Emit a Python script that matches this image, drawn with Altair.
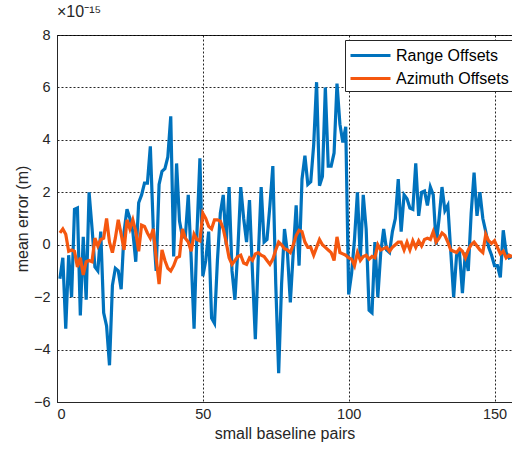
import altair as alt
import pandas as pd

series_names = ["Range Offsets", "Azimuth Offsets"]
series_colors = ["#0072BD", "#F5570F"]

range_vals = [
    -1.3, -0.5, -3.2, -0.4, -2.0, 1.35, 1.4, -2.7, 0.3, -2.1,
    2.0, 0.65, -0.85, -1.0, 0.5, -2.6, -3.1, -4.6, -1.55, -0.9,
    -1.0, -1.7, 0.5, 1.35, 1.0, 0.5, -0.65, 1.6, 1.9, 2.35,
    2.35, 3.75, 0.65, -1.0, 2.3, 2.8, 2.9, 3.35, 4.9, -0.45,
    3.1, 0.9, 0.3, 0.3, 1.9, -0.5, -3.2, 0.5, 3.3, -1.2,
    -0.6, 0.5, -2.8, -3.0, -0.6, 1.2, 1.9, 0.0, 2.2, -1.0,
    -2.1, -0.2, 2.2, 1.0, 0.1, 1.7, -1.0, -3.6, -0.5, 2.2,
    0.1, 0.2, 1.5, 3.0, -1.5, -4.9, -1.5, 0.6, -0.3, -2.2,
    -0.3, 1.5, -0.8, 2.5, 3.4, 2.3, 2.4, 3.8, 6.2, 2.25,
    2.6, 6.0, 3.0, 3.0, 3.5, 6.15, 4.6, 3.9, 4.5, -1.9,
    -1.1, 0.2, 2.0, -0.55, 1.9, 0.6, -2.5, -2.6, 0.1, -2.0,
    -0.3, 0.6, -0.2, -0.3, 0.5, 1.0, 2.5, 0.5, 1.9, 1.75,
    1.4, 1.35, 3.1, 1.1, 2.0, 2.05, 1.5, 2.2, 1.9, 0.0,
    1.0, 2.2, 1.3, 1.5, -0.25, -2.0, -0.4, -0.3, -1.85, -0.3,
    -1.0, 1.2, 2.75, 1.1, 2.0, 1.0, 0.5, -0.1, -0.4, -0.8,
    -0.8, -1.25, 0.55, -0.3, -0.5, -0.45,
]

azimuth_vals = [
    0.45, 0.6, 0.4, -0.25, -0.2, -0.25, -0.85, -0.5, -1.15, -0.65,
    -0.6, -0.65, 0.25, -0.05, 0.2, 0.25, 1.0, 0.1, -0.3, 0.25,
    0.95, 0.4, -0.2, 0.95, 0.6, 0.95, 0.5, -0.25, 0.75, 0.7,
    0.45, 0.25, 0.6, -0.5, -1.5, -0.2, -0.6, -0.9, -1.0, -0.8,
    -0.5, -0.45, 0.6, 0.25, 0.1, -0.25, 0.4, 0.2, 0.15, 1.2,
    1.0, 0.7, 0.6, 0.95, 0.95, 0.9, 0.6, 0.1, -0.5, -0.75,
    -0.6, -0.45, -0.4, -0.7, -0.75, -0.5, -0.6, -0.35, -0.3, -0.4,
    -0.45, -0.6, -0.75, -0.55, -0.2, 0.1, 0.0, -0.15, -0.2, -0.3,
    0.0, 0.35, 0.55, 0.5, 0.1, -0.1, -0.1, -0.4, -0.1, 0.2,
    0.0, -0.1, -0.2, -0.3, -0.6, 0.3, -0.3, -0.35, -0.4, -0.5,
    -0.55, -0.8, -0.3, -0.6, -0.45, -0.4, -0.55, -0.45, -0.5, 0.0,
    -0.2, -0.15, -0.1, -0.25, -0.1, 0.0, 0.1, 0.1, -0.2, 0.1,
    -0.2, 0.15, -0.1, 0.15, -0.05, 0.2, 0.25, 0.2, 0.5, 0.1,
    0.25, 0.45, 0.35, 0.1, -0.2, -0.25, -0.3, -0.15, -0.25, -0.5,
    -0.2, 0.0, 0.1, -0.05, -0.2, -0.3, 0.4, 0.15, 0.05, 0.15,
    -0.1, -0.35, -0.25, -0.5, -0.4, -0.45,
]

x_ticks = [0, 50, 100, 150]
y_ticks = [-6, -4, -2, 0, 2, 4, 6, 8]

pairs = list(range(1, len(range_vals) + 1))
df = pd.DataFrame({
    "pair": pairs + pairs,
    "value": range_vals + azimuth_vals,
    "series": [series_names[0]] * len(range_vals) + [series_names[1]] * len(azimuth_vals),
})

FONT = "Liberation Sans"
INK = "#262626"

color = alt.Color(
    "series:N",
    scale=alt.Scale(domain=series_names, range=series_colors),
    legend=alt.Legend(
        title=None,
        orient="none",
        legendX=288,
        legendY=5,
        direction="vertical",
        symbolType="M-1,0H3",
        symbolSize=400,
        symbolStrokeWidth=3,
        labelFontSize=16,
        labelFont=FONT,
        labelColor="black",
        labelOffset=24,
        rowPadding=3,
        padding=4,
        strokeColor=INK,
        fillColor="white",
    ),
)

x = alt.X(
    "pair:Q",
    scale=alt.Scale(domain=[0, 156], nice=False, zero=False),
    axis=alt.Axis(values=x_ticks, title="small baseline pairs", labelPadding=5, titlePadding=5),
)
y = alt.Y(
    "value:Q",
    scale=alt.Scale(domain=[-6, 8], nice=False),
    axis=alt.Axis(values=y_ticks, title="mean error (m)", labelPadding=7, titlePadding=3),
)

base = alt.Chart(df).mark_line(strokeWidth=3.2).encode(x=x, y=y, color=color)
range_layer = base.transform_filter(alt.datum.series == series_names[0])
az_layer = base.transform_filter(alt.datum.series == series_names[1])

chart = (
    alt.layer(range_layer, az_layer)
    .properties(
        width=455,
        height=367,
        autosize=alt.AutoSizeParams(type="none"),
        padding={"left": 57, "top": 35, "right": 0, "bottom": 50},
        background="white",
        title=alt.TitleParams(
            text="×10⁻¹⁵", anchor="start", fontSize=16, fontWeight="normal",
            font=FONT, color=INK, offset=7, frame="group",
        ),
    )
    .configure_view(stroke=INK, strokeWidth=1)
    .configure_axis(
        domainColor=INK,
        labelColor=INK,
        titleColor=INK,
        labelFont=FONT,
        titleFont=FONT,
        labelFontSize=14.5,
        titleFontSize=16,
        titleFontWeight="normal",
        ticks=False,
        grid=True,
        gridColor="black",
        gridOpacity=0.85,
        gridDash=[2, 2],
        gridWidth=1,
    )
)

chart.save("out.html", embed_options={"renderer": "svg", "actions": False})
